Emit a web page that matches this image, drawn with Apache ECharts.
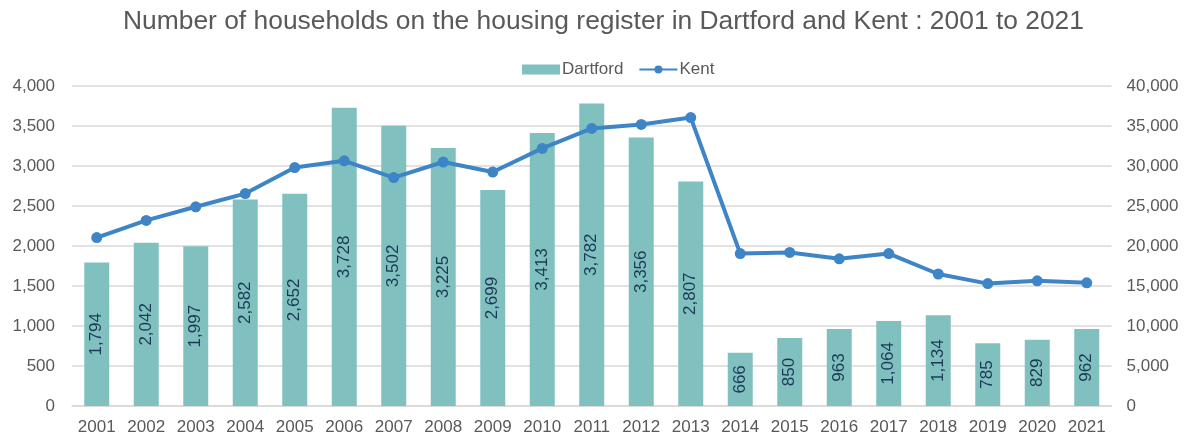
<!DOCTYPE html>
<html>
<head>
<meta charset="utf-8">
<script src="https://cdn.jsdelivr.net/npm/echarts@6/dist/echarts.min.js"></script>
<style>
  html, body { margin: 0; padding: 0; background: #fff; }
  #chart { width: 1187px; height: 439px; }
</style>
</head>
<body>
<div id="chart"></div>
<script>
// Years on the register
const years = ['2001','2002','2003','2004','2005','2006','2007','2008','2009','2010','2011',
  '2012','2013','2014','2015','2016','2017','2018','2019','2020','2021'];
// Households on the Dartford register (left axis)
const dartford = [1794, 2042, 1997, 2582, 2652, 3728, 3502, 3225, 2699, 3413, 3782,
  3356, 2807, 666, 850, 963, 1064, 1134, 785, 829, 962];
// Households on the Kent register (right axis)
const kent = [21050, 23200, 24900, 26550, 29800, 30650, 28550, 30500, 29250, 32200, 34700,
  35200, 36050, 19050, 19200, 18400, 19050, 16500, 15300, 15650, 15400];

const titleText = 'Number of households on the housing register in Dartford and Kent : 2001 to 2021';
const FONT = 'Liberation Sans, Arial, sans-serif';
const fmt = v => Number(v).toLocaleString('en-US');

const chart = echarts.init(document.getElementById('chart'));
chart.setOption({
  backgroundColor: '#ffffff',
  animation: false,
  textStyle: { fontFamily: FONT },
  title: {
    text: titleText,
    left: 118,
    top: 4,
    textStyle: { fontFamily: FONT, fontSize: 26.4, fontWeight: 'normal', color: '#595959' }
  },
  legend: {
    left: 517,
    top: 56,
    itemWidth: 38,
    itemHeight: 10,
    itemGap: 15,
    textStyle: { fontFamily: FONT, fontSize: 17, color: '#595959', padding: [0, 0, 0, -3] },
    data: [
      { name: 'Dartford', icon: 'rect' },
      { name: 'Kent' }
    ]
  },
  grid: { left: 72, right: 75.5, top: 86, bottom: 33, containLabel: false },
  xAxis: {
    type: 'category',
    data: years,
    axisTick: { show: false },
    axisLine: { lineStyle: { color: '#d9d9d9', width: 1.5 } },
    axisLabel: { fontFamily: FONT, fontSize: 17, color: '#595959', margin: 13 }
  },
  yAxis: [
    {
      type: 'value', min: 0, max: 4000, interval: 500,
      axisLine: { show: false }, axisTick: { show: false },
      splitLine: { lineStyle: { color: '#d9d9d9', width: 1.5 } },
      axisLabel: { fontFamily: FONT, fontSize: 17, color: '#595959', margin: 17, formatter: fmt }
    },
    {
      type: 'value', min: 0, max: 40000, interval: 5000,
      axisLine: { show: false }, axisTick: { show: false },
      splitLine: { show: false },
      axisLabel: { fontFamily: FONT, fontSize: 17, color: '#595959', margin: 15, formatter: fmt }
    }
  ],
  series: [
    {
      name: 'Dartford',
      type: 'bar',
      yAxisIndex: 0,
      data: dartford,
      barWidth: 25,
      itemStyle: { color: '#80c1bf' },
      label: {
        show: true,
        position: 'inside',
        rotate: 90,
        fontFamily: FONT,
        fontSize: 17,
        color: '#1b3956',
        formatter: p => fmt(p.value)
      }
    },
    {
      name: 'Kent',
      type: 'line',
      yAxisIndex: 1,
      data: kent,
      symbol: 'circle',
      symbolSize: 11,
      lineStyle: { color: '#3e85c7', width: 4 },
      itemStyle: { color: '#3e85c7' },
      z: 5
    }
  ]
});
</script>
</body>
</html>
